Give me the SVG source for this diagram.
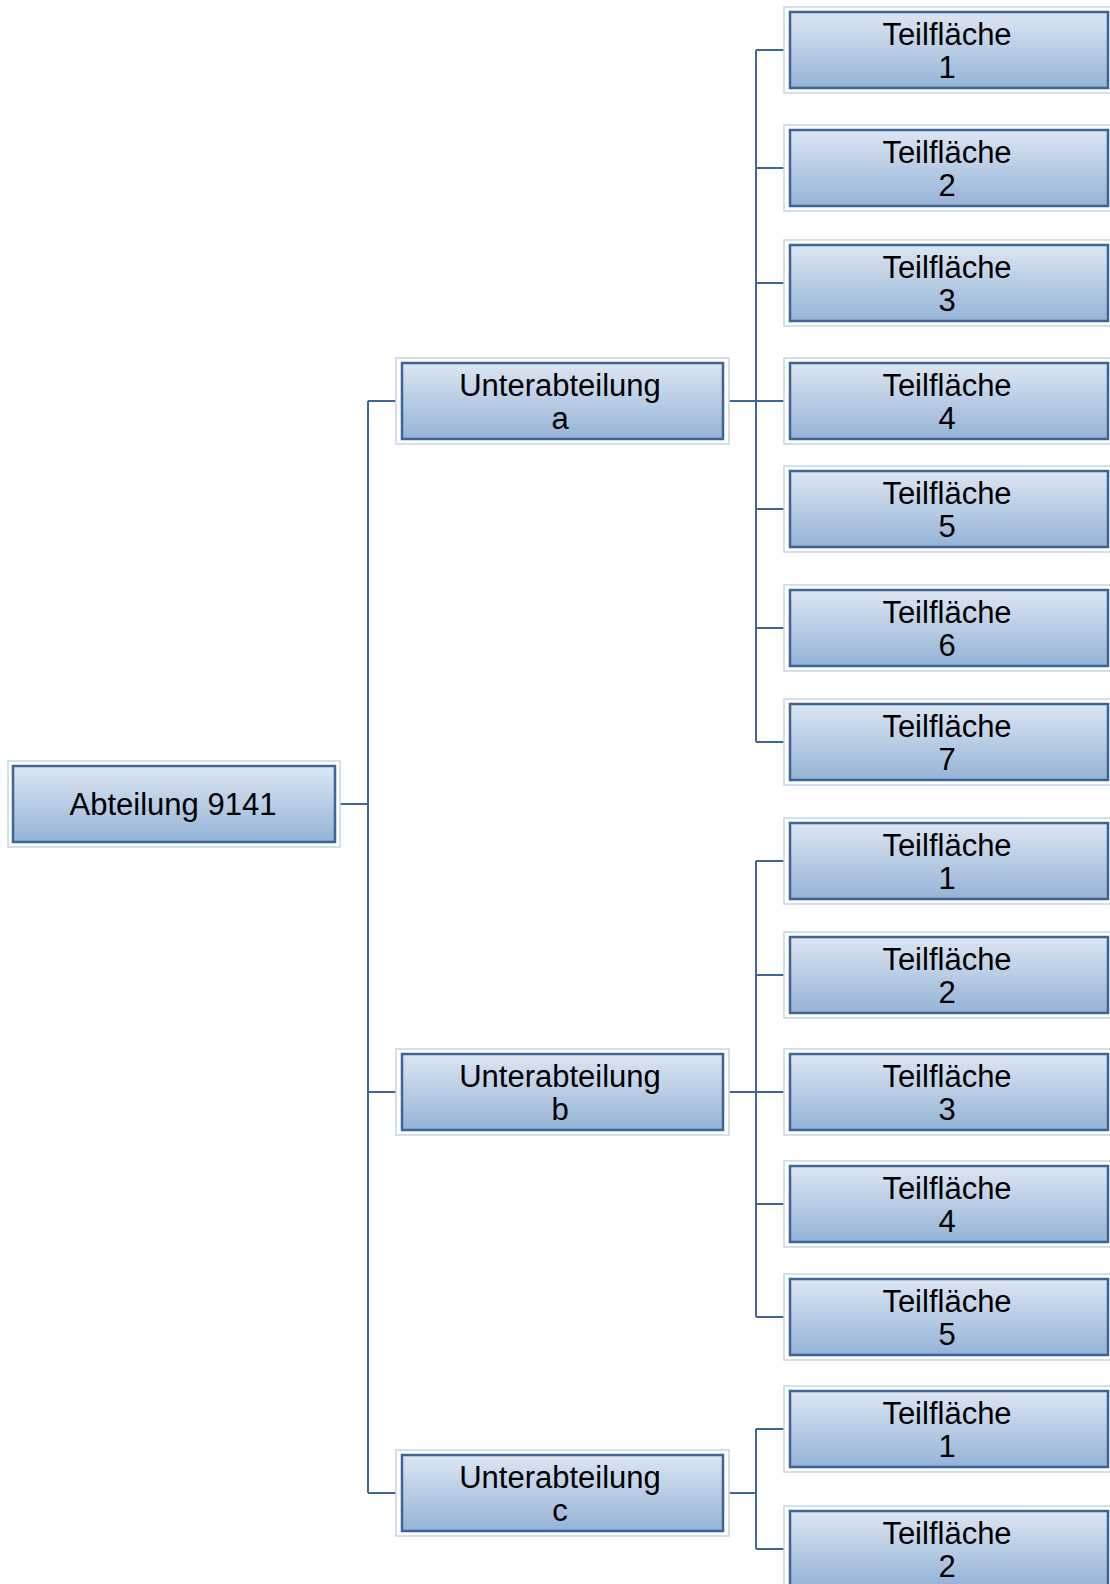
<svg xmlns="http://www.w3.org/2000/svg" width="1110" height="1584" viewBox="0 0 1110 1584">
  <defs>
    <linearGradient id="boxFill" x1="0" y1="0" x2="0" y2="1">
      <stop offset="0" stop-color="#dce6f2"/>
      <stop offset="1" stop-color="#95b3d7"/>
    </linearGradient>
  </defs>
  <style>
    .frame { fill: #ffffff; stroke: #c3d5ea; stroke-width: 1.5; }
    .box { fill: url(#boxFill); stroke: #3e6395; stroke-width: 2.5; }
    .label { font-family: "Liberation Sans", Arial, sans-serif; font-size: 31px; fill: #000000; text-anchor: middle; }
    .link { fill: none; stroke: #41679a; stroke-width: 2; }
  </style>
  <rect width="1110" height="1584" fill="#ffffff"/>

  <!-- connectors -->
  <g id="connectors" class="link">
    <path d="M340,804 H368"/>
    <path d="M368,401 V1493"/>
    <path d="M368,401 H396 M368,1092 H396 M368,1493 H396"/>
    <!-- Unterabteilung a -->
    <path d="M729,401 H756 M756,50 V742"/>
    <path d="M756,50 H784 M756,168 H784 M756,283 H784 M756,401 H784 M756,509 H784 M756,628 H784 M756,742 H784"/>
    <!-- Unterabteilung b -->
    <path d="M729,1092 H756 M756,861 V1317"/>
    <path d="M756,861 H784 M756,975 H784 M756,1092 H784 M756,1204 H784 M756,1317 H784"/>
    <!-- Unterabteilung c -->
    <path d="M729,1493 H756 M756,1429 V1549"/>
    <path d="M756,1429 H784 M756,1549 H784"/>
  </g>

  <!-- root -->
  <g id="abteilung">
    <rect class="frame" x="8" y="761" width="332" height="86"/>
    <rect class="box" x="13" y="766" width="322" height="76"/>
    <text class="label" x="173" y="815">Abteilung 9141</text>
  </g>

  <!-- sub-divisions -->
  <g id="unterabteilung-a">
    <rect class="frame" x="396" y="358" width="333" height="86"/>
    <rect class="box" x="402" y="363" width="321" height="76"/>
    <text class="label" x="560" y="396">Unterabteilung</text>
    <text class="label" x="560" y="429">a</text>
  </g>
  <g id="unterabteilung-b">
    <rect class="frame" x="396" y="1049" width="333" height="86"/>
    <rect class="box" x="402" y="1054" width="321" height="76"/>
    <text class="label" x="560" y="1087">Unterabteilung</text>
    <text class="label" x="560" y="1120">b</text>
  </g>
  <g id="unterabteilung-c">
    <rect class="frame" x="396" y="1450" width="333" height="86"/>
    <rect class="box" x="402" y="1455" width="321" height="76"/>
    <text class="label" x="560" y="1488">Unterabteilung</text>
    <text class="label" x="560" y="1521">c</text>
  </g>

  <!-- parcels of a -->
  <g id="a-teilflaeche-1">
    <rect class="frame" x="784" y="7" width="330" height="86"/>
    <rect class="box" x="790" y="12" width="318" height="76"/>
    <text class="label" x="947" y="45">Teilfläche</text>
    <text class="label" x="947" y="78">1</text>
  </g>
  <g id="a-teilflaeche-2">
    <rect class="frame" x="784" y="125" width="330" height="86"/>
    <rect class="box" x="790" y="130" width="318" height="76"/>
    <text class="label" x="947" y="163">Teilfläche</text>
    <text class="label" x="947" y="196">2</text>
  </g>
  <g id="a-teilflaeche-3">
    <rect class="frame" x="784" y="240" width="330" height="86"/>
    <rect class="box" x="790" y="245" width="318" height="76"/>
    <text class="label" x="947" y="278">Teilfläche</text>
    <text class="label" x="947" y="311">3</text>
  </g>
  <g id="a-teilflaeche-4">
    <rect class="frame" x="784" y="358" width="330" height="86"/>
    <rect class="box" x="790" y="363" width="318" height="76"/>
    <text class="label" x="947" y="396">Teilfläche</text>
    <text class="label" x="947" y="429">4</text>
  </g>
  <g id="a-teilflaeche-5">
    <rect class="frame" x="784" y="466" width="330" height="86"/>
    <rect class="box" x="790" y="471" width="318" height="76"/>
    <text class="label" x="947" y="504">Teilfläche</text>
    <text class="label" x="947" y="537">5</text>
  </g>
  <g id="a-teilflaeche-6">
    <rect class="frame" x="784" y="585" width="330" height="86"/>
    <rect class="box" x="790" y="590" width="318" height="76"/>
    <text class="label" x="947" y="623">Teilfläche</text>
    <text class="label" x="947" y="656">6</text>
  </g>
  <g id="a-teilflaeche-7">
    <rect class="frame" x="784" y="699" width="330" height="86"/>
    <rect class="box" x="790" y="704" width="318" height="76"/>
    <text class="label" x="947" y="737">Teilfläche</text>
    <text class="label" x="947" y="770">7</text>
  </g>

  <!-- parcels of b -->
  <g id="b-teilflaeche-1">
    <rect class="frame" x="784" y="818" width="330" height="86"/>
    <rect class="box" x="790" y="823" width="318" height="76"/>
    <text class="label" x="947" y="856">Teilfläche</text>
    <text class="label" x="947" y="889">1</text>
  </g>
  <g id="b-teilflaeche-2">
    <rect class="frame" x="784" y="932" width="330" height="86"/>
    <rect class="box" x="790" y="937" width="318" height="76"/>
    <text class="label" x="947" y="970">Teilfläche</text>
    <text class="label" x="947" y="1003">2</text>
  </g>
  <g id="b-teilflaeche-3">
    <rect class="frame" x="784" y="1049" width="330" height="86"/>
    <rect class="box" x="790" y="1054" width="318" height="76"/>
    <text class="label" x="947" y="1087">Teilfläche</text>
    <text class="label" x="947" y="1120">3</text>
  </g>
  <g id="b-teilflaeche-4">
    <rect class="frame" x="784" y="1161" width="330" height="86"/>
    <rect class="box" x="790" y="1166" width="318" height="76"/>
    <text class="label" x="947" y="1199">Teilfläche</text>
    <text class="label" x="947" y="1232">4</text>
  </g>
  <g id="b-teilflaeche-5">
    <rect class="frame" x="784" y="1274" width="330" height="86"/>
    <rect class="box" x="790" y="1279" width="318" height="76"/>
    <text class="label" x="947" y="1312">Teilfläche</text>
    <text class="label" x="947" y="1345">5</text>
  </g>

  <!-- parcels of c -->
  <g id="c-teilflaeche-1">
    <rect class="frame" x="784" y="1386" width="330" height="86"/>
    <rect class="box" x="790" y="1391" width="318" height="76"/>
    <text class="label" x="947" y="1424">Teilfläche</text>
    <text class="label" x="947" y="1457">1</text>
  </g>
  <g id="c-teilflaeche-2">
    <rect class="frame" x="784" y="1506" width="330" height="86"/>
    <rect class="box" x="790" y="1511" width="318" height="76"/>
    <text class="label" x="947" y="1544">Teilfläche</text>
    <text class="label" x="947" y="1577">2</text>
  </g>
</svg>
